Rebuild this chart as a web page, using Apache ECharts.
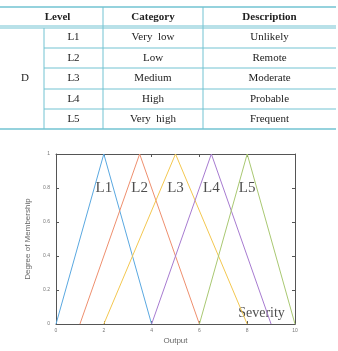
<!DOCTYPE html>
<html><head><meta charset="utf-8">
<script src="https://cdn.jsdelivr.net/npm/echarts@6/dist/echarts.min.js"></script>
<style>html,body{margin:0;padding:0;background:#fff}#c{width:338px;height:351px}</style>
</head><body><div id="c"></div>
<script>
// ---- table data ----
const tableHeaders = ['Level', 'Category', 'Description'];
const groupLabel = 'D';
const levels = ['L1', 'L2', 'L3', 'L4', 'L5'];
const categories = ['Very  low', 'Low', 'Medium', 'High', 'Very  high'];
const descriptions = ['Unlikely', 'Remote', 'Moderate', 'Probable', 'Frequent'];

// ---- chart data: triangular membership functions [x, y] ----
const seriesNames = ['L1', 'L2', 'L3', 'L4', 'L5'];
const L1 = [[0, 0], [2, 1], [4, 0]];
const L2 = [[1, 0], [3.5, 1], [6, 0]];
const L3 = [[2, 0], [5, 1], [8, 0]];
const L4 = [[4, 0], [6.5, 1], [9, 0]];
const L5 = [[6, 0], [8, 1], [10, 0]];
const labelPoints = [[2, 0.8, 'L1'], [3.5, 0.8, 'L2'], [5, 0.8, 'L3'], [6.5, 0.8, 'L4'], [8, 0.8, 'L5']];
const notePoints = [[8.6, 0.065, 'Severity']];
const xTicks = [0, 2, 4, 6, 8, 10];
const yTicks = [0, 0.2, 0.4, 0.6, 0.8, 1];

const colors = ['#5aa8e0', '#ee8f6e', '#f3c750', '#a77bd0', '#a9c872'];
const lineColor = '#72c3d2';
const serif = '"Liberation Serif", "DejaVu Serif", serif';

// ---- table graphic ----
const colX = [0, 44, 103, 203, 336];
const rowY = [7, 27, 48, 68, 89, 109, 129];
const g = [];
function hline(x1, x2, y, w) { g.push({type: 'line', shape: {x1, y1: y, x2, y2: y}, style: {stroke: lineColor, lineWidth: w}}); }
function vline(x, y1, y2) { g.push({type: 'line', shape: {x1: x, y1, x2: x, y2}, style: {stroke: lineColor, lineWidth: 1}}); }
function txt(x, y, s, bold) {
  g.push({type: 'text', x, y, style: {text: s, fill: '#222', font: (bold ? 'bold ' : '') + '11px ' + serif, textAlign: 'center', textVerticalAlign: 'middle'}});
}
hline(0, 336, rowY[0], 1.4);
hline(0, 336, rowY[1] - 1, 1);
hline(0, 336, rowY[1] + 1, 1);
for (let i = 2; i < 6; i++) hline(colX[1], 336, rowY[i], 1);
hline(0, 336, rowY[6], 1.4);
vline(colX[2], rowY[0], rowY[6]);
vline(colX[3], rowY[0], rowY[6]);
vline(colX[1], rowY[1] + 1, rowY[6]);
txt((colX[0] + colX[2]) / 2 + 6, (rowY[0] + rowY[1]) / 2, tableHeaders[0], true);
txt((colX[2] + colX[3]) / 2, (rowY[0] + rowY[1]) / 2, tableHeaders[1], true);
txt((colX[3] + colX[4]) / 2, (rowY[0] + rowY[1]) / 2, tableHeaders[2], true);
txt(25, (rowY[1] + rowY[6]) / 2, groupLabel, false);
for (let i = 0; i < levels.length; i++) {
  const cy = (rowY[i + 1] + rowY[i + 2]) / 2;
  txt((colX[1] + colX[2]) / 2, cy, levels[i], false);
  txt((colX[2] + colX[3]) / 2, cy, categories[i], false);
  txt((colX[3] + colX[4]) / 2, cy, descriptions[i], false);
}

const axisCommon = {
  min: 0,
  axisLine: {show: true, onZero: false, lineStyle: {color: '#555', width: 1}},
  axisTick: {show: true, inside: true, length: 3, lineStyle: {color: '#555'}},
  splitLine: {show: false},
};
const chart = echarts.init(document.getElementById('c'));
const data = [L1, L2, L3, L4, L5];
chart.setOption({
  animation: false,
  grid: {left: 56, right: 43, top: 154, bottom: 20},
  graphic: g,
  xAxis: [
    Object.assign({}, axisCommon, {type: 'value', max: 10, interval: 2, name: 'Output', nameLocation: 'middle', nameGap: 13,
      nameTextStyle: {color: '#666', fontSize: 8, fontFamily: 'Liberation Sans'},
      axisLabel: {color: '#777', fontSize: 5, margin: 4, fontFamily: 'Liberation Sans', formatter: v => xTicks.includes(v) ? String(v) : ''}}),
    Object.assign({}, axisCommon, {type: 'value', max: 10, interval: 2, position: 'top', axisLabel: {show: false}})
  ],
  yAxis: [
    Object.assign({}, axisCommon, {type: 'value', max: 1, interval: 0.2, name: 'Degree of Membership', nameLocation: 'middle', nameGap: 17,
      nameTextStyle: {color: '#666', fontSize: 8, fontFamily: 'Liberation Sans'},
      axisLabel: {color: '#777', fontSize: 5, margin: 6, fontFamily: 'Liberation Sans', formatter: v => { const t = yTicks.find(k => Math.abs(k - v) < 1e-9); return t === undefined ? '' : String(t); }}}),
    Object.assign({}, axisCommon, {type: 'value', max: 1, interval: 0.2, position: 'right', axisLabel: {show: false}})
  ],
  series: data.map((d, i) => ({
    type: 'line', name: seriesNames[i], data: d, symbol: 'none', color: colors[i],
    lineStyle: {width: 1, color: colors[i]}, xAxisIndex: 0, yAxisIndex: 0
  })).concat([{
    type: 'scatter', symbolSize: 0, data: labelPoints.map(p => ({value: [p[0], p[1]], name: p[2]})),
    label: {show: true, position: 'inside', formatter: p => p.name, color: '#222', fontSize: 15, fontFamily: serif},
    silent: true
  }, {
    type: 'scatter', symbolSize: 0, data: notePoints.map(p => ({value: [p[0], p[1]], name: p[2]})),
    label: {show: true, position: 'inside', formatter: p => p.name, color: '#222', fontSize: 14, fontFamily: serif},
    silent: true
  }])
});
</script></body></html>
